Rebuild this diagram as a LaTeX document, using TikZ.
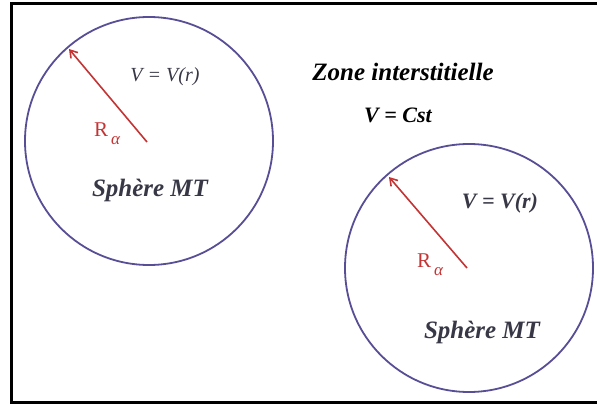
\documentclass[tikz,border=0pt]{standalone}
\usepackage{fontspec}
\setmainfont{Liberation Serif}
\usetikzlibrary{arrows.meta}
\definecolor{circ}{RGB}{88,78,150}
\definecolor{arr}{RGB}{196,52,52}
\definecolor{txt}{RGB}{55,55,70}
\newcommand{\ralpha}{R\kern3pt\raisebox{-8pt}{\fontsize{17}{17}\selectfont\itshape α}}
\tikzset{
  sphere/.style={draw=circ,line width=1.8pt,circle,minimum size=248pt,inner sep=0pt},
  radius/.style={draw=arr,line width=1.6pt,-{Straight Barb[length=7pt,width=9pt,line width=1.6pt]}},
  lbl/.style={font=\fontsize{20}{22}\selectfont\itshape,text=txt,inner sep=0pt},
  blbl/.style={font=\fontsize{25}{28}\selectfont\bfseries\itshape,text=txt,inner sep=0pt},
  rlbl/.style={font=\fontsize{21}{22}\selectfont,text=arr,inner sep=0pt}
}
\begin{document}
\begin{tikzpicture}[x=1pt,y=-1pt]
\useasboundingbox (0,0) rectangle (597,406);
\clip (0,0) rectangle (597,406);
\draw[line width=3pt] (11.5,4) rectangle (602,402);
% left sphere
\node[sphere] (s1) at (149,141) {};
\coordinate (c1) at (147,142);
\coordinate (e1) at (69,49);
\draw[radius] (c1) -- (e1);
\node[lbl] (v1) at (165,77) {V = V(r)};
\node[rlbl] (r1) at (107,134) {\ralpha};
\node[blbl] (m1) at (150,190) {Sphère MT};
% right sphere
\node[sphere] (s2) at (469,268) {};
\coordinate (c2) at (467,268);
\coordinate (e2) at (389,177);
\draw[radius] (c2) -- (e2);
\node[lbl,font=\fontsize{22}{24}\selectfont\bfseries\itshape] (v2) at (500,203) {V = V(r)};
\node[rlbl] (r2) at (430,265) {\ralpha};
\node[blbl] (m2) at (482,332) {Sphère MT};
% zone
\node[blbl,text=black] (z) at (403,72) {Zone interstitielle};
\node[blbl,text=black,font=\fontsize{22}{24}\selectfont\bfseries\itshape] (cst) at (398,115) {V = Cst};
\end{tikzpicture}
\end{document}
